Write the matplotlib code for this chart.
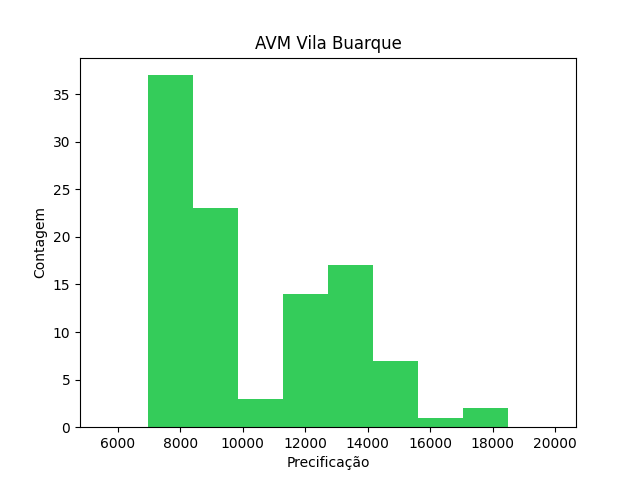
import numpy as np
import matplotlib.pyplot as plt

# histogram counts (10 bins, first and last empty)
counts = [0, 37, 23, 3, 14, 17, 7, 1, 2, 0]
hist_range = (5510, 19950)

edges = np.linspace(hist_range[0], hist_range[1], len(counts) + 1)
centers = (edges[:-1] + edges[1:]) / 2

fig = plt.figure(figsize=(6.4, 4.8), dpi=100)
plt.hist(centers, bins=edges, weights=counts, color='#34cc5a')
plt.title('AVM Vila Buarque')
plt.xlabel('Precificação')
plt.ylabel('Contagem')
plt.savefig('out.png')
